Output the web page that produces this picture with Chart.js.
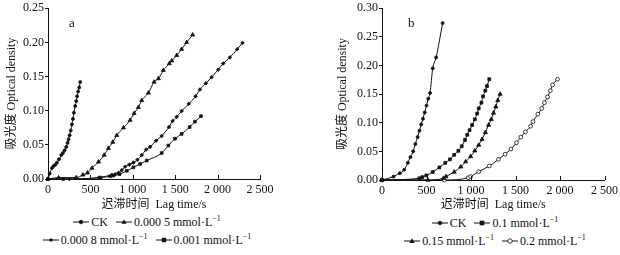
<!DOCTYPE html>
<html>
<head>
<meta charset="utf-8">
<script src="https://cdn.jsdelivr.net/npm/chart.js@4"></script>
<style>
  body { margin: 0; width: 620px; height: 255px; background: #fff; position: relative; overflow: hidden;
         font-family: "Liberation Serif", "Noto Sans CJK SC", serif; color: #111; }
  canvas { position: absolute; top: 0; }
  .tag { position: absolute; font-size: 13px; }
  .legend { position: absolute; font-size: 12px; text-align: center; white-space: nowrap; }
  .legend .row { height: 18px; line-height: 18px; }
  .legend svg { vertical-align: middle; margin: 0 2px 2px 0; }
  .legend sup { font-size: 8px; vertical-align: 5px; line-height: 0; }
  .item { margin: 0 4px; }
</style>
</head>
<body>
<canvas id="chart-a" width="310" height="212" style="left:0"></canvas>
<canvas id="chart-b" width="312" height="212" style="left:310px"></canvas>
<div class="tag" style="left:69px; top:15px">a</div>
<div class="tag" style="left:408px; top:15px">b</div>
<div class="legend" id="legend-a" style="left:2px; width:290px; top:213px"></div>
<div class="legend" id="legend-b" style="left:350px; width:290px; top:214px"></div>
<script>
// 눈금 라벨
const xTickLabels = ['0', '500', '1 000', '1 500', '2 000', '2 500'];
const yTickLabelsA = ['0.00', '0.05', '0.10', '0.15', '0.20', '0.25'];
const yTickLabelsB = ['0.00', '0.05', '0.10', '0.15', '0.20', '0.25', '0.30'];

// 그림 a
const aNames = ['CK', '0.000 5 mmol·L', '0.000 8 mmol·L', '0.001 mmol·L'];
const aCkX = [0, 20, 47, 66, 86, 106, 130, 157, 176, 196, 215, 231, 243, 255, 268, 282, 294, 305, 321, 333, 343, 355, 368, 380];
const aCkY = [0, 0.008, 0.016, 0.019, 0.021, 0.024, 0.029, 0.035, 0.038, 0.042, 0.047, 0.053, 0.058, 0.064, 0.071, 0.080, 0.088, 0.097, 0.107, 0.114, 0.121, 0.128, 0.134, 0.142];
const a05X = [0, 125, 333, 412, 466, 518, 596, 662, 713, 764, 811, 890, 968, 1015, 1066, 1106, 1184, 1251, 1302, 1360, 1431, 1459, 1518, 1576, 1635, 1706];
const a05Y = [0, 0.002, 0.002, 0.006, 0.009, 0.016, 0.025, 0.035, 0.045, 0.054, 0.064, 0.075, 0.086, 0.096, 0.105, 0.115, 0.126, 0.142, 0.147, 0.159, 0.169, 0.173, 0.181, 0.190, 0.200, 0.211];
const a08X = [0, 250, 600, 753, 792, 831, 870, 909, 960, 1007, 1054, 1106, 1156, 1204, 1274, 1340, 1427, 1470, 1518, 1576, 1660, 1740, 1792, 1862, 1929, 2007, 2066, 2145, 2231, 2294];
const a08Y = [0, 0, 0.002, 0.006, 0.007, 0.009, 0.013, 0.018, 0.021, 0.024, 0.028, 0.035, 0.043, 0.047, 0.056, 0.063, 0.076, 0.085, 0.091, 0.0995, 0.110, 0.121, 0.131, 0.140, 0.149, 0.160, 0.169, 0.178, 0.190, 0.199];
const a10X = [0, 180, 620, 733, 772, 843, 929, 1007, 1086, 1165, 1341, 1419, 1498, 1576, 1670, 1733, 1804];
const a10Y = [0, 0, 0.002, 0.004, 0.005, 0.007, 0.012, 0.017, 0.022, 0.027, 0.038, 0.049, 0.059, 0.066, 0.076, 0.084, 0.092];

// 그림 b
const bNames = ['CK', '0.1 mmol·L', '0.15 mmol·L', '0.2 mmol·L'];
const bCkX = [0, 130, 200, 250, 290, 320, 350, 375, 400, 420, 440, 460, 480, 500, 520, 540, 570, 608, 681];
const bCkY = [0, 0.006, 0.012, 0.018, 0.030, 0.040, 0.050, 0.063, 0.075, 0.086, 0.097, 0.107, 0.118, 0.130, 0.142, 0.152, 0.195, 0.214, 0.274];
const b1X = [0, 420, 453, 498, 571, 645, 711, 763, 811, 858, 896, 933, 958, 984, 1013, 1043, 1069, 1087, 1117, 1135, 1161, 1180, 1205];
const b1Y = [0, 0.003, 0.005, 0.008, 0.014, 0.022, 0.030, 0.036, 0.044, 0.051, 0.059, 0.070, 0.079, 0.087, 0.096, 0.106, 0.116, 0.125, 0.135, 0.146, 0.156, 0.164, 0.176];
const b15X = [0, 516, 690, 719, 811, 885, 940, 996, 1043, 1087, 1124, 1161, 1198, 1228, 1253, 1279, 1301, 1327];
const b15Y = [0, 0, 0.003, 0.006, 0.014, 0.023, 0.032, 0.041, 0.051, 0.061, 0.071, 0.083, 0.096, 0.106, 0.117, 0.128, 0.139, 0.150];
const b2X = [0, 700, 969, 996, 1087, 1206, 1309, 1383, 1449, 1511, 1560, 1611, 1670, 1696, 1751, 1795, 1825, 1860, 1891, 1917, 1972];
const b2Y = [0, 0, 0.004, 0.006, 0.0145, 0.0245, 0.036, 0.045, 0.054, 0.065, 0.075, 0.084, 0.094, 0.102, 0.115, 0.125, 0.135, 0.145, 0.156, 0.166, 0.176];

// 점 모양
const aStyles = [
    { pointStyle: 'circle', radius: 1.5, fill: '#111' },
    { pointStyle: 'triangle', radius: 2.3, fill: '#111' },
    { pointStyle: 'rectRot', radius: 1.8, fill: '#111' },
    { pointStyle: 'rect', radius: 1.9, fill: '#111' }
];
const bStyles = [
    { pointStyle: 'circle', radius: 1.5, fill: '#111' },
    { pointStyle: 'rect', radius: 2, fill: '#111' },
    { pointStyle: 'triangle', radius: 2.4, fill: '#111' },
    { pointStyle: 'circle', radius: 1.9, fill: '#fff' }
];

function zip(xs, ys) {
    return xs.map((x, i) => ({ x: x, y: ys[i] }));
}

function makeDataset(label, xs, ys, st) {
    return {
        label: label,
        data: zip(xs, ys),
        borderColor: '#111',
        borderWidth: 1,
        pointStyle: st.pointStyle,
        pointRadius: st.radius,
        pointBackgroundColor: st.fill,
        pointBorderColor: '#111',
        pointBorderWidth: 0.8,
        cubicInterpolationMode: 'monotone',
        clip: false
    };
}

// x축 눈금을 안쪽(위)으로 그리기
const innerTicks = {
    id: 'innerTicks',
    afterDraw(chart) {
        const xs = chart.scales.x;
        const ctx = chart.ctx;
        const b = chart.chartArea.bottom;
        ctx.save();
        ctx.strokeStyle = '#111';
        ctx.lineWidth = 1;
        xs.ticks.forEach(t => {
            if (t.value === 0) return;
            const px = Math.round(xs.getPixelForValue(t.value)) + 0.5;
            ctx.beginPath();
            ctx.moveTo(px, b);
            ctx.lineTo(px, b - 4);
            ctx.stroke();
        });
        ctx.restore();
    }
};

function makeChart(id, datasets, yMax, yLabels, yWidth, titlePad, padRight, xHeight) {
    const font = { family: '"Liberation Serif", "Noto Sans CJK SC", serif', size: 12 };
    return new Chart(document.getElementById(id).getContext('2d'), {
        type: 'line',
        data: { datasets: datasets },
        plugins: [innerTicks],
        options: {
            responsive: false,
            animation: false,
            devicePixelRatio: 1,
            layout: { padding: { left: 0, right: padRight, top: 8, bottom: 0 } },
            plugins: { legend: { display: false }, tooltip: { enabled: false } },
            scales: {
                x: {
                    type: 'linear', min: 0, max: 2500,
                    afterFit: s => { s.height = xHeight; },
                    border: { color: '#111', width: 1 },
                    grid: { drawOnChartArea: false, drawTicks: false },
                    ticks: {
                        stepSize: 500, color: '#111', font: font, padding: 4, maxRotation: 0,
                        callback: (v, i) => xTickLabels[i]
                    },
                    title: { display: true, text: '迟滞时间  Lag time/s', color: '#111', font: font, padding: 0 }
                },
                y: {
                    type: 'linear', min: 0, max: yMax,
                    afterFit: s => { s.width = yWidth; },
                    border: { color: '#111', width: 1 },
                    grid: { drawOnChartArea: false, drawTicks: true, tickLength: 3, color: '#111' },
                    ticks: {
                        stepSize: 0.05, color: '#111', font: font, padding: 1,
                        callback: (v, i) => yLabels[i]
                    },
                    title: {
                        display: true, text: '吸光度 Optical density', color: '#111',
                        font: { family: font.family, size: 12 }, padding: { top: titlePad, bottom: 0 }
                    }
                }
            }
        }
    });
}

makeChart('chart-a', [
    makeDataset(aNames[0], aCkX, aCkY, aStyles[0]),
    makeDataset(aNames[1], a05X, a05Y, aStyles[1]),
    makeDataset(aNames[2], a08X, a08Y, aStyles[2]),
    makeDataset(aNames[3], a10X, a10Y, aStyles[3])
], 0.25, yTickLabelsA, 48, 5, 50, 33);

makeChart('chart-b', [
    makeDataset(bNames[0], bCkX, bCkY, bStyles[0]),
    makeDataset(bNames[1], b1X, b1Y, bStyles[1]),
    makeDataset(bNames[2], b15X, b15Y, bStyles[2]),
    makeDataset(bNames[3], b2X, b2Y, bStyles[3])
], 0.30, yTickLabelsB, 72, 26, 14, 32);

// 범례 기호 (선 + 점)
function glyph(st) {
    const r = st.radius + 0.3;
    let mark = '';
    if (st.pointStyle === 'circle') {
        mark = `<circle cx="8" cy="4" r="${r}" fill="${st.fill}" stroke="#111" stroke-width="0.8"/>`;
    } else if (st.pointStyle === 'rect') {
        mark = `<rect x="${8 - r}" y="${4 - r}" width="${2 * r}" height="${2 * r}" fill="#111"/>`;
    } else if (st.pointStyle === 'rectRot') {
        mark = `<polygon points="8,${4 - r} ${8 + r},4 8,${4 + r} ${8 - r},4" fill="#111"/>`;
    } else {
        mark = `<polygon points="8,${4 - r} ${8 + r},${4 + r * 0.7} ${8 - r},${4 + r * 0.7}" fill="#111"/>`;
    }
    return `<svg width="16" height="8"><line x1="0" y1="4" x2="16" y2="4" stroke="#111" stroke-width="1"/>${mark}</svg>`;
}

function item(name, st, sup) {
    return `<span class="item">${glyph(st)}${name}${sup ? '<sup>−1</sup>' : ''}</span>`;
}

function renderLegend(id, names, styles) {
    const el = document.getElementById(id);
    el.innerHTML =
        `<div class="row">${item(names[0], styles[0], false)}${item(names[1], styles[1], true)}</div>` +
        `<div class="row">${item(names[2], styles[2], true)}${item(names[3], styles[3], true)}</div>`;
}

renderLegend('legend-a', aNames, aStyles);
renderLegend('legend-b', bNames, bStyles);
</script>
</body>
</html>
